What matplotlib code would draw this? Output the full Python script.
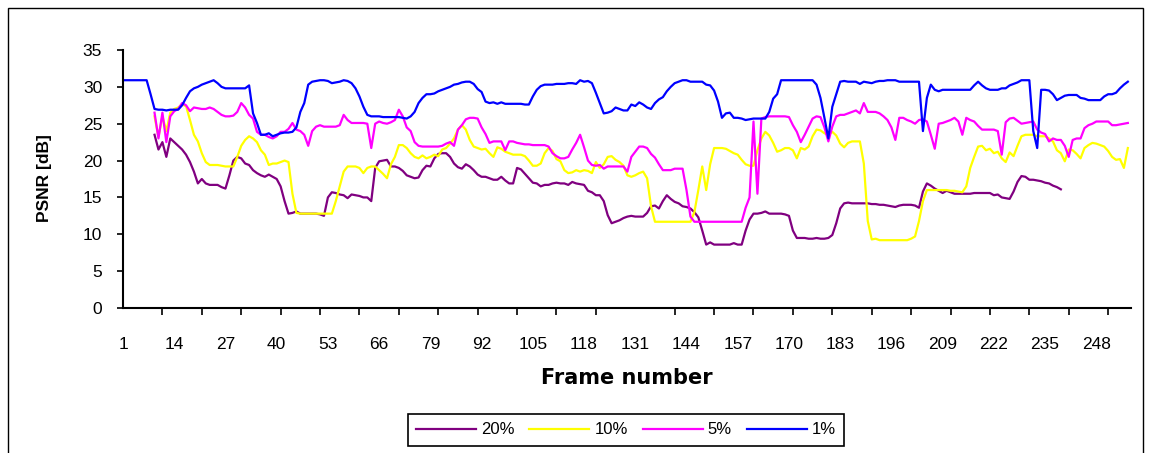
import matplotlib.pyplot as plt
import numpy as np
from matplotlib.patches import Rectangle

nan = np.nan

frames = list(range(1, 257))

# PSNR per frame (nan = no value)
psnr_20 = [nan, nan, nan, nan, nan, nan, nan, nan, 23.5, 21.5,
           22.5, 20.5, 23.0, 22.5, 22.0, 21.5, 20.8, 19.8, 18.5, 16.9,
           17.5, 16.9, 16.7, 16.7, 16.7, 16.4, 16.2, 18.0, 20.0, 20.5,
           20.3, 19.6, 19.4, 18.7, 18.3, 18.0, 17.8, 18.1, 17.8, 17.5,
           16.5, 14.5, 12.8, 12.9, 13.1, 12.8, 12.8, 12.8, 12.8, 12.8,
           12.7, 12.5, 15.0, 15.7, 15.6, 15.4, 15.3, 14.9, 15.4, 15.3,
           15.2, 15.0, 15.0, 14.5, 19.0, 19.9, 20.0, 20.1, 19.2, 19.2,
           19.0, 18.6, 18.0, 17.8, 17.6, 17.7, 18.7, 19.3, 19.2, 20.3,
           20.9, 21.0, 21.0, 20.5, 19.6, 19.1, 18.9, 19.5, 19.2, 18.7,
           18.1, 17.8, 17.8, 17.6, 17.4, 17.4, 17.8, 17.3, 16.9, 16.9,
           19.0, 18.8, 18.2, 17.6, 17.0, 16.9, 16.5, 16.7, 16.7, 16.9,
           17.0, 16.9, 16.9, 16.7, 17.1, 16.9, 16.8, 16.7, 15.9, 15.7,
           15.3, 15.3, 14.5, 12.6, 11.5, 11.7, 11.9, 12.2, 12.4, 12.5,
           12.4, 12.4, 12.4, 12.9, 13.8, 13.9, 13.5, 14.5, 15.3, 14.8,
           14.4, 14.2, 13.8, 13.7, 13.5, 13.0, 12.3, 10.5, 8.6, 8.9,
           8.6, 8.6, 8.6, 8.6, 8.6, 8.8, 8.6, 8.6, 10.5, 12.0,
           12.8, 12.8, 12.9, 13.1, 12.8, 12.8, 12.8, 12.8, 12.7, 12.5,
           10.5, 9.5, 9.5, 9.5, 9.4, 9.4, 9.5, 9.4, 9.4, 9.5,
           9.9, 11.5, 13.5, 14.2, 14.3, 14.2, 14.2, 14.2, 14.2, 14.2,
           14.1, 14.1, 14.0, 14.0, 13.9, 13.8, 13.7, 13.9, 14.0, 14.0,
           14.0, 13.9, 13.6, 15.8, 16.9, 16.6, 16.2, 15.9, 15.6, 15.9,
           15.7, 15.5, 15.5, 15.5, 15.5, 15.5, 15.6, 15.6, 15.6, 15.6,
           15.6, 15.3, 15.4, 15.0, 14.9, 14.8, 15.8, 17.1, 17.9, 17.8,
           17.4, 17.4, 17.3, 17.2, 17.0, 16.9, 16.6, 16.4, 16.1, nan,
           nan, nan, nan, nan, nan, nan, nan, nan, nan, nan,
           nan, nan, nan, nan, nan, nan]

psnr_10 = [nan, nan, nan, nan, nan, nan, nan, nan, 26.0, 23.2,
           26.0, 24.0, 26.5, 27.0, 27.2, 27.6, 27.4, 25.5, 23.5, 22.6,
           21.0, 19.8, 19.4, 19.4, 19.4, 19.3, 19.2, 19.2, 19.2, 20.5,
           22.0, 22.8, 23.3, 23.0, 22.5, 21.4, 20.8, 19.4, 19.6, 19.6,
           19.8, 20.0, 19.8, 15.5, 12.9, 12.8, 12.8, 12.8, 12.8, 12.8,
           12.8, 12.8, 12.8, 12.8, 14.5, 16.5, 18.5, 19.2, 19.2, 19.2,
           19.0, 18.3, 19.0, 19.2, 19.2, 18.7, 18.2, 17.6, 19.5, 20.5,
           22.1, 22.1, 21.7, 21.0, 20.5, 20.3, 20.7, 20.3, 20.5, 20.8,
           20.6, 21.5, 21.7, 22.3, 23.0, 24.2, 24.8, 24.2, 22.8, 21.9,
           21.7, 21.5, 21.6, 21.0, 20.5, 21.8, 21.6, 21.2, 21.0, 20.8,
           20.8, 20.8, 20.6, 20.0, 19.3, 19.3, 19.6, 21.0, 21.7, 21.3,
           20.2, 19.9, 18.7, 18.3, 18.4, 18.7, 18.5, 18.7, 18.6, 18.3,
           19.8, 19.0, 19.5, 20.5, 20.6, 20.1, 19.8, 19.3, 18.0, 17.8,
           18.0, 18.3, 18.5, 17.6, 13.8, 11.7, 11.7, 11.7, 11.7, 11.7,
           11.7, 11.7, 11.7, 11.7, 11.7, 13.0, 16.0, 19.2, 16.0, 19.5,
           21.7, 21.7, 21.7, 21.6, 21.3, 21.0, 20.8, 20.1, 19.5, 19.3,
           19.3, 21.4, 23.0, 23.9, 23.4, 22.4, 21.2, 21.4, 21.7, 21.7,
           21.4, 20.3, 21.7, 21.5, 21.9, 23.3, 24.2, 24.1, 23.7, 23.5,
           23.9, 23.4, 22.3, 21.8, 22.4, 22.6, 22.6, 22.6, 19.6, 11.8,
           9.3, 9.4, 9.2, 9.2, 9.2, 9.2, 9.2, 9.2, 9.2, 9.2,
           9.4, 9.7, 11.8, 14.5, 16.0, 16.0, 16.0, 16.0, 16.0, 16.0,
           15.9, 15.9, 15.8, 15.7, 16.5, 19.0, 20.5, 21.9, 22.0, 21.4,
           21.6, 21.0, 21.2, 20.3, 19.8, 21.1, 20.6, 22.0, 23.3, 23.5,
           23.5, 23.5, 23.3, 23.3, 23.3, 23.0, 22.6, 21.4, 21.0, 19.9,
           21.5, 21.4, 20.9, 20.3, 21.7, 22.1, 22.4, 22.3, 22.1, 21.9,
           21.3, 20.5, 20.1, 20.2, 19.0, 21.7]

psnr_5 = [nan, nan, nan, nan, nan, nan, nan, nan, 26.5, 23.0,
          26.5, 22.5, 26.0, 26.7, 27.0, 27.8, 27.5, 26.7, 27.2, 27.1,
          27.0, 27.0, 27.2, 27.0, 26.6, 26.2, 26.0, 26.0, 26.1, 26.6,
          27.8, 27.2, 26.2, 25.7, 23.9, 23.5, 23.5, 23.2, 23.0, 23.3,
          23.9, 23.9, 24.3, 25.1, 24.2, 24.0, 23.5, 22.0, 24.0, 24.6,
          24.8, 24.6, 24.6, 24.6, 24.6, 24.8, 26.2, 25.5, 25.1, 25.1,
          25.1, 25.1, 25.0, 21.7, 25.0, 25.3, 25.1, 25.0, 25.2, 25.5,
          26.9, 26.0, 24.5, 24.0, 22.5, 22.0, 21.9, 21.9, 21.9, 21.9,
          21.9, 22.0, 22.3, 22.5, 22.0, 24.2, 24.8, 25.6, 25.8, 25.8,
          25.7, 24.5, 23.6, 22.4, 22.6, 22.6, 22.6, 21.4, 22.6, 22.6,
          22.4, 22.3, 22.2, 22.2, 22.1, 22.1, 22.1, 22.1, 21.9, 21.0,
          20.6, 20.3, 20.3, 20.5, 21.5, 22.4, 23.5, 21.8, 20.0, 19.4,
          19.3, 19.4, 18.9, 19.2, 19.2, 19.2, 19.2, 19.2, 18.5, 20.5,
          21.2, 21.9, 21.9, 21.7, 20.9, 20.4, 19.5, 18.7, 18.7, 18.7,
          18.9, 18.9, 18.9, 16.0, 12.4, 11.7, 11.7, 11.7, 11.7, 11.7,
          11.7, 11.7, 11.7, 11.7, 11.7, 11.7, 11.7, 11.7, 13.6, 15.0,
          25.3, 15.5, 25.7, 25.9, 26.0, 26.0, 26.0, 26.0, 26.0, 25.9,
          24.8, 23.9, 22.5, 23.5, 24.6, 25.7, 26.0, 25.9, 24.5, 22.6,
          24.6, 26.0, 26.2, 26.2, 26.4, 26.6, 26.8, 26.4, 27.8, 26.6,
          26.6, 26.6, 26.4, 26.0, 25.5, 24.5, 22.8, 25.8, 25.8, 25.5,
          25.3, 25.0, 25.5, 25.6, 25.3, 23.5, 21.6, 25.0, 25.1, 25.3,
          25.5, 25.8, 25.3, 23.5, 25.8, 25.5, 25.3, 24.7, 24.2, 24.2,
          24.2, 24.2, 24.0, 20.8, 25.2, 25.7, 25.8, 25.4, 25.0, 25.1,
          25.2, 25.3, 24.2, 23.8, 23.6, 22.6, 23.0, 22.8, 22.8, 22.0,
          20.5, 22.8, 23.0, 23.0, 24.4, 24.8, 25.0, 25.3, 25.3, 25.3,
          25.3, 24.8, 24.8, 24.9, 25.0, 25.1]

psnr_1 = [30.9, 30.9, 30.9, 30.9, 30.9, 30.9, 30.9, 29.0, 27.0, 26.9,
          26.9, 26.8, 26.9, 26.9, 26.9, 27.5, 28.5, 29.4, 29.8, 30.0,
          30.3, 30.5, 30.7, 30.9, 30.5, 30.0, 29.8, 29.8, 29.8, 29.8,
          29.8, 29.8, 30.2, 26.4, 25.1, 23.5, 23.5, 23.7, 23.3, 23.5,
          23.7, 23.8, 23.8, 23.9, 24.5, 26.6, 27.8, 30.3, 30.7, 30.8,
          30.9, 30.9, 30.8, 30.5, 30.6, 30.7, 30.9, 30.8, 30.5, 29.8,
          28.7, 27.3, 26.2, 26.0, 26.0, 26.0, 25.9, 25.9, 25.9, 25.9,
          25.9, 25.8, 25.7, 26.0, 26.6, 27.8, 28.5, 29.0, 29.0, 29.1,
          29.4, 29.6, 29.8, 30.0, 30.3, 30.4, 30.6, 30.7, 30.7, 30.4,
          29.7, 29.3, 28.0, 27.8, 27.9, 27.7, 27.9, 27.7, 27.7, 27.7,
          27.7, 27.7, 27.6, 27.6, 28.7, 29.6, 30.1, 30.3, 30.3, 30.3,
          30.4, 30.4, 30.4, 30.5, 30.5, 30.4, 30.9, 30.7, 30.8, 30.5,
          29.2, 27.8, 26.4, 26.5, 26.7, 27.2, 27.0, 26.8, 26.8, 27.6,
          27.4, 27.9, 27.6, 27.2, 27.0, 27.8, 28.3, 28.6, 29.4, 30.0,
          30.5, 30.7, 30.9, 30.9, 30.7, 30.7, 30.7, 30.7, 30.3, 30.2,
          29.5, 28.0, 25.8, 26.4, 26.5, 25.8, 25.8, 25.7, 25.5, 25.6,
          25.7, 25.7, 25.7, 25.7, 26.6, 28.4, 29.0, 30.9, 30.9, 30.9,
          30.9, 30.9, 30.9, 30.9, 30.9, 30.9, 30.3, 28.5, 25.8, 23.0,
          27.3, 29.0, 30.7, 30.8, 30.7, 30.7, 30.7, 30.4, 30.7, 30.6,
          30.5, 30.7, 30.8, 30.8, 30.9, 30.9, 30.9, 30.7, 30.7, 30.7,
          30.7, 30.7, 30.7, 24.0, 28.5, 30.3, 29.6, 29.4, 29.6, 29.6,
          29.6, 29.6, 29.6, 29.6, 29.6, 29.6, 30.2, 30.7, 30.2, 29.8,
          29.6, 29.6, 29.6, 29.8, 29.8, 30.2, 30.4, 30.6, 30.9, 30.9,
          30.9, 24.0, 21.7, 29.6, 29.6, 29.5, 29.0, 28.2, 28.5, 28.8,
          28.9, 28.9, 28.9, 28.5, 28.4, 28.2, 28.2, 28.2, 28.2, 28.7,
          29.0, 29.0, 29.2, 29.8, 30.3, 30.7]

series_names = ['20%', '10%', '5%', '1%']
series_colors = ['#800080', '#ffff00', '#ff00ff', '#0000ff']

label_frames = list(range(1, 249, 13))
tick_frames = list(range(1, 252, 10))
y_ticks = [0, 5, 10, 15, 20, 25, 30, 35]

plt.rcParams['font.family'] = ['Liberation Sans', 'DejaVu Sans']

fig = plt.figure(figsize=(11.53, 4.53), dpi=100)
ax = fig.add_axes([123 / 1153, 1 - 308 / 453, 1008 / 1153, 258 / 453])

for values, name, color in zip([psnr_20, psnr_10, psnr_5, psnr_1], series_names, series_colors):
    ax.plot(frames, values, color=color, linewidth=1.6, label=name)

ax.set_xlim(1, 256.8)
ax.set_ylim(0, 35)

ax.set_yticks(y_ticks)
ax.tick_params(axis='y', direction='out', length=4, width=1.2, pad=11, labelsize=12.5)

ax.set_xticks(label_frames)
ax.set_xticks(tick_frames, minor=True)
ax.tick_params(axis='x', which='major', length=0, pad=21, labelsize=12.5)
ax.tick_params(axis='x', which='minor', direction='out', length=5, width=1.2)

ax.spines['top'].set_visible(False)
ax.spines['right'].set_visible(False)
ax.spines['left'].set_linewidth(1.5)
ax.spines['bottom'].set_linewidth(1.5)

fig.text(45 / 1153, 1 - 178 / 453, 'PSNR [dB]', rotation=90, ha='center', va='center',
         fontsize=12.5, fontweight='bold')
fig.text(627 / 1153, 1 - 378 / 453, 'Frame number', ha='center', va='center',
         fontsize=15, fontweight='bold', family=['DejaVu Sans'])

leg = fig.legend(loc='center', bbox_to_anchor=(626 / 1153, 1 - 430 / 453), ncol=4,
                 fontsize=12, handlelength=3.6, columnspacing=0.9, handletextpad=0.3,
                 fancybox=False, edgecolor='black', framealpha=1, borderpad=0.5)
leg.get_frame().set_linewidth(1.2)

# outer chart-area border
fig.patches.append(Rectangle((8 / 1153, -0.2), 1135 / 1153, 1.2 - 8 / 453,
                             transform=fig.transFigure, fill=False,
                             edgecolor='black', linewidth=1))

fig.savefig('out.png', dpi=100)
